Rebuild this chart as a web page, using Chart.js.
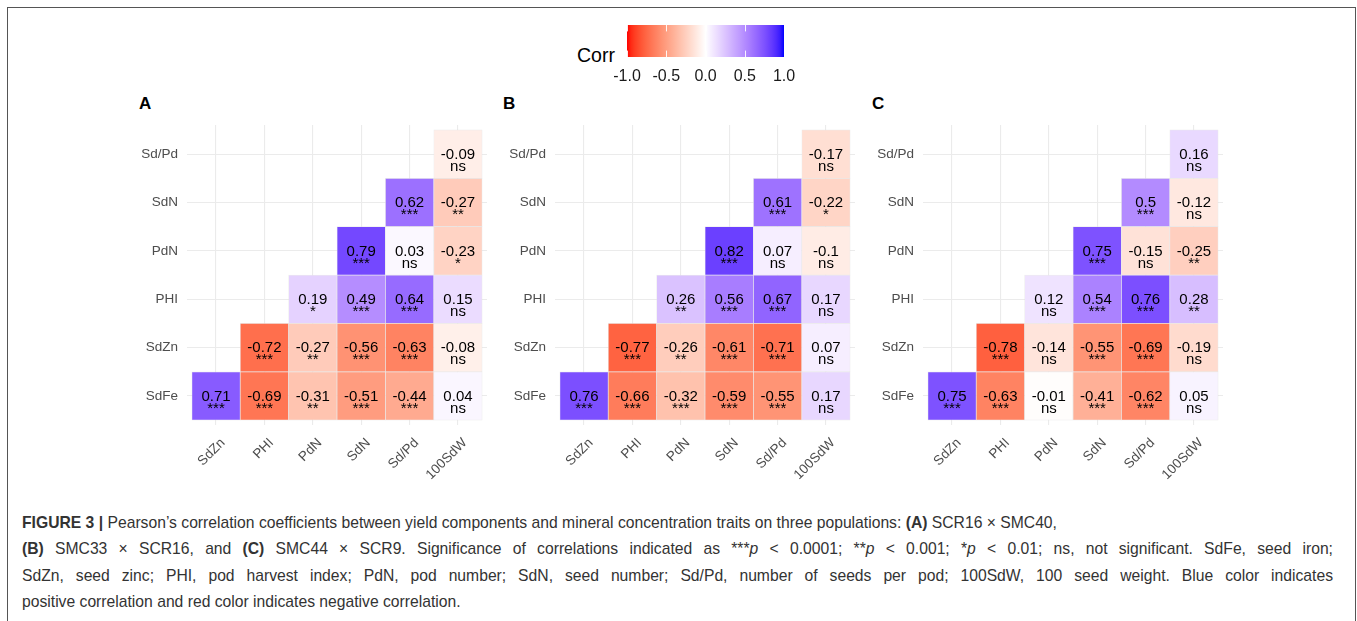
<!DOCTYPE html>
<html>
<head>
<meta charset="utf-8">
<script src="https://cdn.jsdelivr.net/npm/chart.js@4.4.1/dist/chart.umd.min.js"></script>
<style>
  html, body { margin: 0; padding: 0; background: #fff; }
  body { width: 1357px; height: 621px; position: relative; overflow: hidden; font-family: "Liberation Sans", Arial, Helvetica, sans-serif; }
  .frame { position: absolute; left: 7px; top: 7px; width: 1347px; height: 700px; border: 1.5px solid #555; }
  canvas { position: absolute; }
  .ptitle { position: absolute; font-weight: bold; font-size: 17px; color: #000; line-height: 20px; }
  .corr { position: absolute; font-size: 19.5px; color: #000; line-height: 22px; }
  .caption { position: absolute; left: 22px; top: 510px; width: 1311px; font-size: 15.7px; line-height: 26.3px; color: #333; }
  .caption div { white-space: nowrap; }
  .caption .j { text-align: justify; text-align-last: justify; white-space: normal; }
</style>
</head>
<body>
<div class="frame"></div>
<div class="corr" style="left:577px; top:44px;">Corr</div>
<div class="ptitle" style="left:139px; top:94px;">A</div>
<div class="ptitle" style="left:503px; top:94px;">B</div>
<div class="ptitle" style="left:872px; top:94px;">C</div>
<canvas id="legend" width="260" height="80" style="left:560px; top:15px;"></canvas>
<canvas id="panelA" width="400" height="377" style="left:100px; top:108px;"></canvas>
<canvas id="panelB" width="400" height="377" style="left:468px; top:108px;"></canvas>
<canvas id="panelC" width="400" height="377" style="left:836px; top:108px;"></canvas>
<div class="caption">
<div><b>FIGURE 3 |</b> Pearson’s correlation coefficients between yield components and mineral concentration traits on three populations: <b>(A)</b> SCR16 × SMC40,</div>
<div class="j"><b>(B)</b> SMC33 × SCR16, and <b>(C)</b> SMC44 × SCR9. Significance of correlations indicated as ***<i>p</i> &lt; 0.0001; **<i>p</i> &lt; 0.001; *<i>p</i> &lt; 0.01; ns, not significant. SdFe, seed iron;</div>
<div class="j">SdZn, seed zinc; PHI, pod harvest index; PdN, pod number; SdN, seed number; Sd/Pd, number of seeds per pod; 100SdW, 100 seed weight. Blue color indicates</div>
<div>positive correlation and red color indicates negative correlation.</div>
</div>
<script>
// ---- data ----
const xLabels = ['SdZn', 'PHI', 'PdN', 'SdN', 'Sd/Pd', '100SdW'];
const yLabels = ['SdFe', 'SdZn', 'PHI', 'PdN', 'SdN', 'Sd/Pd'];
const legendTicks = [-1, -0.5, 0, 0.5, 1];

const corrA = [
  [0.71, -0.69, -0.31, -0.51, -0.44, 0.04],
  [null, -0.72, -0.27, -0.56, -0.63, -0.08],
  [null, null, 0.19, 0.49, 0.64, 0.15],
  [null, null, null, 0.79, 0.03, -0.23],
  [null, null, null, null, 0.62, -0.27],
  [null, null, null, null, null, -0.09]
];
const sigA = [
  ['***', '***', '**', '***', '***', 'ns'],
  [null, '***', '**', '***', '***', 'ns'],
  [null, null, '*', '***', '***', 'ns'],
  [null, null, null, '***', 'ns', '*'],
  [null, null, null, null, '***', '**'],
  [null, null, null, null, null, 'ns']
];
const corrB = [
  [0.76, -0.66, -0.32, -0.59, -0.55, 0.17],
  [null, -0.77, -0.26, -0.61, -0.71, 0.07],
  [null, null, 0.26, 0.56, 0.67, 0.17],
  [null, null, null, 0.82, 0.07, -0.1],
  [null, null, null, null, 0.61, -0.22],
  [null, null, null, null, null, -0.17]
];
const sigB = [
  ['***', '***', '***', '***', '***', 'ns'],
  [null, '***', '**', '***', '***', 'ns'],
  [null, null, '**', '***', '***', 'ns'],
  [null, null, null, '***', 'ns', 'ns'],
  [null, null, null, null, '***', '*'],
  [null, null, null, null, null, 'ns']
];
const corrC = [
  [0.75, -0.63, -0.01, -0.41, -0.62, 0.05],
  [null, -0.78, -0.14, -0.55, -0.69, -0.19],
  [null, null, 0.12, 0.54, 0.76, 0.28],
  [null, null, null, 0.75, -0.15, -0.25],
  [null, null, null, null, 0.5, -0.12],
  [null, null, null, null, null, 0.16]
];
const sigC = [
  ['***', '***', 'ns', '***', '***', 'ns'],
  [null, '***', 'ns', '***', '***', 'ns'],
  [null, null, 'ns', '***', '***', '**'],
  [null, null, null, '***', 'ns', '**'],
  [null, null, null, null, '***', 'ns'],
  [null, null, null, null, null, 'ns']
];

// ---- colour scale: red - white - blue, interpolated in CIE Lab ----
function toLin(c) { c /= 255; return c <= 0.04045 ? c / 12.92 : Math.pow((c + 0.055) / 1.055, 2.4); }
function fromLin(c) { c = c <= 0.0031308 ? 12.92 * c : 1.055 * Math.pow(c, 1 / 2.4) - 0.055; return Math.round(Math.max(0, Math.min(1, c)) * 255); }
function rgb2lab(rgb) {
  const r = toLin(rgb[0]), g = toLin(rgb[1]), b = toLin(rgb[2]);
  const X = (0.4124564 * r + 0.3575761 * g + 0.1804375 * b) / 0.95047;
  const Y = (0.2126729 * r + 0.7151522 * g + 0.0721750 * b);
  const Z = (0.0193339 * r + 0.1191920 * g + 0.9503041 * b) / 1.08883;
  const f = t => t > 0.008856 ? Math.cbrt(t) : 7.787 * t + 16 / 116;
  return [116 * f(Y) - 16, 500 * (f(X) - f(Y)), 200 * (f(Y) - f(Z))];
}
function lab2rgb(lab) {
  const fy = (lab[0] + 16) / 116, fx = lab[1] / 500 + fy, fz = fy - lab[2] / 200;
  const inv = t => { const t3 = t * t * t; return t3 > 0.008856 ? t3 : (t - 16 / 116) / 7.787; };
  const X = inv(fx) * 0.95047, Y = inv(fy), Z = inv(fz) * 1.08883;
  const r = 3.2404542 * X - 1.5371385 * Y - 0.4985314 * Z;
  const g = -0.9692660 * X + 1.8760108 * Y + 0.0415560 * Z;
  const b = 0.0556434 * X - 0.2040259 * Y + 1.0572252 * Z;
  return [fromLin(r), fromLin(g), fromLin(b)];
}
const LAB_RED = rgb2lab([255, 0, 0]), LAB_WHITE = rgb2lab([255, 255, 255]), LAB_BLUE = rgb2lab([0, 0, 255]);
function fillColor(v) {
  const end = v < 0 ? LAB_RED : LAB_BLUE;
  const t = Math.min(1, Math.abs(v));
  const lab = [0, 1, 2].map(k => LAB_WHITE[k] + (end[k] - LAB_WHITE[k]) * t);
  const c = lab2rgb(lab);
  return 'rgb(' + c[0] + ',' + c[1] + ',' + c[2] + ')';
}

const FONT = '"Liberation Sans", Arial, Helvetica, sans-serif';
Chart.defaults.font.family = FONT;

const cellText = {
  id: 'cellText',
  afterDatasetsDraw(chart) {
    const ctx = chart.ctx;
    ctx.save();
    ctx.fillStyle = '#000';
    ctx.textAlign = 'center';
    ctx.textBaseline = 'middle';
    ctx.font = '15px ' + FONT;
    chart.data.datasets.forEach((ds, di) => {
      const meta = chart.getDatasetMeta(di);
      meta.data.forEach((el, k) => {
        const d = ds.data[k];
        const cy = (el.y + el.base) / 2;
        ctx.fillText(String(d.v), el.x, cy + 0.5);
        ctx.fillText(d.s, el.x, cy + 12.5);
      });
    });
    ctx.restore();
  }
};

function makePanel(id, corr, sig) {
  const datasets = yLabels.map((yl, i) => ({
    label: yl,
    data: corr[i].map((v, j) => v === null ? null : { x: j, y: [i - 0.5, i + 0.5], v: v, s: sig[i][j] }).filter(d => d),
    backgroundColor: ctx => ctx.raw ? fillColor(ctx.raw.v) : 'transparent',
    borderColor: 'rgba(228,228,228,0.7)',
    borderWidth: 0.7,
    borderSkipped: false,
    grouped: false,
    barPercentage: 1,
    categoryPercentage: 1
  }));
  return new Chart(document.getElementById(id), {
    type: 'bar',
    data: { datasets },
    plugins: [cellText],
    options: {
      responsive: false,
      animation: false,
      devicePixelRatio: 1,
      layout: { padding: { top: 4, right: 13, left: 0, bottom: 0 } },
      plugins: { legend: { display: false }, tooltip: { enabled: false } },
      scales: {
        x: {
          type: 'linear', min: -0.6, max: 5.6, offset: false,
          afterBuildTicks: s => { s.ticks = xLabels.map((_, i) => ({ value: i })); },
          afterFit: s => { s.height = 60; },
          ticks: { callback: v => xLabels[v], autoSkip: false, minRotation: 45, maxRotation: 45, padding: 10, labelOffset: 7, color: '#4D4D4D', font: { size: 13.5 } },
          grid: { color: '#EBEBEB', lineWidth: 1.1, drawTicks: false, offset: false },
          border: { display: false }
        },
        y: {
          type: 'linear', min: -0.6, max: 5.6, offset: false,
          afterBuildTicks: s => { s.ticks = yLabels.map((_, i) => ({ value: i })); },
          afterFit: s => { s.width = 87; },
          ticks: { callback: v => yLabels[v], autoSkip: false, padding: 9, color: '#4D4D4D', font: { size: 13.5 } },
          grid: { color: '#EBEBEB', lineWidth: 1.1, drawTicks: false, offset: false },
          border: { display: false }
        }
      }
    }
  });
}

makePanel('panelA', corrA, sigA);
makePanel('panelB', corrB, sigB);
makePanel('panelC', corrC, sigC);

// ---- colour bar legend ----
const barTicks = {
  id: 'barTicks',
  afterDatasetsDraw(chart) {
    const ctx = chart.ctx, ca = chart.chartArea, sx = chart.scales.x;
    ctx.save();
    ctx.strokeStyle = 'rgba(255,255,255,0.9)';
    ctx.lineWidth = 1;
    const len = (ca.bottom - ca.top) / 5;
    legendTicks.forEach(v => {
      const x = Math.round(sx.getPixelForValue(v)) + 0.5;
      ctx.beginPath();
      ctx.moveTo(x, ca.top); ctx.lineTo(x, ca.top + len);
      ctx.moveTo(x, ca.bottom - len); ctx.lineTo(x, ca.bottom);
      ctx.stroke();
    });
    ctx.restore();
  }
};
new Chart(document.getElementById('legend'), {
  type: 'bar',
  data: {
    labels: ['Corr'],
    datasets: [{
      data: [[legendTicks[0], legendTicks[legendTicks.length - 1]]],
      backgroundColor: ctx => {
        const ca = ctx.chart.chartArea;
        if (!ca) return null;
        const g = ctx.chart.ctx.createLinearGradient(ca.left, 0, ca.right, 0);
        for (let k = 0; k <= 40; k++) g.addColorStop(k / 40, fillColor(-1 + 2 * k / 40));
        return g;
      },
      borderWidth: 0,
      barPercentage: 1,
      categoryPercentage: 1
    }]
  },
  plugins: [barTicks],
  options: {
    indexAxis: 'y',
    responsive: false,
    animation: false,
    devicePixelRatio: 1,
    layout: { padding: { top: 10, left: 67, right: 36, bottom: 0 } },
    plugins: { legend: { display: false }, tooltip: { enabled: false } },
    scales: {
      x: {
        type: 'linear', min: -1, max: 1, offset: false,
        afterBuildTicks: s => { s.ticks = legendTicks.map(v => ({ value: v })); },
        afterFit: s => { s.height = 38; },
        ticks: { callback: v => v.toFixed(1), padding: 2, color: '#1A1A1A', font: { size: 16 } },
        grid: { display: false },
        border: { display: false }
      },
      y: { display: false }
    }
  }
});
</script>
</body>
</html>
